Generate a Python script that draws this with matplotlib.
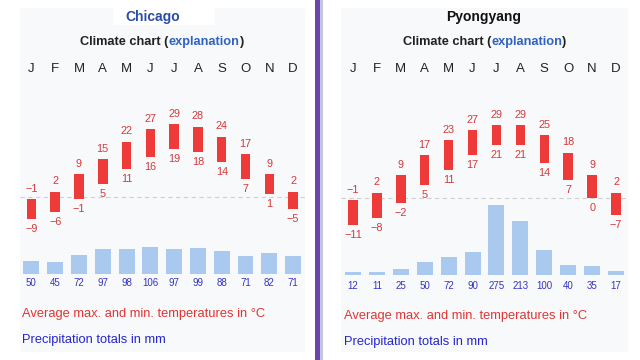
import matplotlib
matplotlib.use("Agg")
from matplotlib import pyplot as plt
from matplotlib.patches import Rectangle

plt.rcParams['font.family'] = ['Liberation Sans', 'DejaVu Sans']

months = ['J', 'F', 'M', 'A', 'M', 'J', 'J', 'A', 'S', 'O', 'N', 'D']

chicago_max = [-1, 2, 9, 15, 22, 27, 29, 28, 24, 17, 9, 2]
chicago_min = [-9, -6, -1, 5, 11, 16, 19, 18, 14, 7, 1, -5]
chicago_prec = [50, 45, 72, 97, 98, 106, 97, 99, 88, 71, 82, 71]

pyong_max = [-1, 2, 9, 17, 23, 27, 29, 29, 25, 18, 9, 2]
pyong_min = [-11, -8, -2, 5, 11, 17, 21, 21, 14, 7, 0, -7]
pyong_prec = [12, 11, 25, 50, 72, 90, 275, 213, 100, 40, 35, 17]

W, H = 640, 360
RED_BAR = '#ef3a3a'
RED_TXT = '#d5393c'
BLUE_BAR = '#a9c9ef'
BLUE_TXT = '#3434c4'
GREY_BG = '#f8f9fa'

fig = plt.figure(figsize=(6.4, 3.6), dpi=100)
fig.patch.set_facecolor('white')


def fx(px):
    return px / W


def fy(py):
    return 1 - py / H


def lab(v):
    return str(v).replace('-', '\u2212')


def panel(left, right, title, title_color, title_x, tmax, tmin, prec,
          zero_y, base_y, month_y, prec_lab_y, legend_y):
    # panel background
    fig.patches.append(Rectangle((fx(left), fy(352)), fx(right - left), (352 - 8) / H,
                                 transform=fig.transFigure, facecolor=GREY_BG,
                                 edgecolor='none', zorder=-2))
    cx = (left + right) / 2
    fig.text(fx(title_x), fy(17.5), title, color=title_color, fontsize=10,
             fontweight='bold', ha='center', va='center')

    # subtitle with a blue link word
    t1 = fig.text(0, 0, 'Climate chart (', fontsize=9.2, fontweight='bold',
                  color='#202122')
    t2 = fig.text(0, 0, 'explanation', fontsize=9.2, fontweight='bold',
                  color='#3062c0')
    t3 = fig.text(0, 0, ')', fontsize=9.2, fontweight='bold', color='#202122')
    r = fig.canvas.get_renderer()
    w1 = t1.get_window_extent(r).width
    w2 = t2.get_window_extent(r).width
    w3 = t3.get_window_extent(r).width
    start = cx - (w1 + w2 + w3) / 2
    y_base = fy(45.5)
    t1.set_position((fx(start), y_base))
    t2.set_position((fx(start + w1), y_base))
    t3.set_position((fx(start + w1 + w2), y_base))

    step = (right - left) / 12
    # temperature axes: 2.5 px per degree
    scale_t = 2.5
    t_lo, t_hi = -16, 40
    ax = fig.add_axes([fx(left), fy(zero_y - t_lo * scale_t),
                       fx(right - left), (t_hi - t_lo) * scale_t / H])
    ax.set_xlim(-0.5, 11.5)
    ax.set_ylim(t_lo, t_hi)
    ax.axis('off')
    x = list(range(12))
    heights = [a - b for a, b in zip(tmax, tmin)]
    ax.bar(x, heights, bottom=tmin, width=0.4, color=RED_BAR, zorder=3)
    ax.axhline(0, color='#d0d0d0', lw=0.8, ls=(0, (4, 3)), zorder=1)
    for i in x:
        ax.annotate(lab(tmax[i]), (i, tmax[i]), xytext=(0, 7.4),
                    textcoords='offset points', ha='center', va='center',
                    color=RED_TXT, fontsize=7.8)
        ax.annotate(lab(tmin[i]), (i, tmin[i]), xytext=(0, -7.4),
                    textcoords='offset points', ha='center', va='center',
                    color=RED_TXT, fontsize=7.8)

    # precipitation axes: 0.255 px per mm
    scale_p = 0.255
    p_hi = 300
    axp = fig.add_axes([fx(left), fy(base_y), fx(right - left), p_hi * scale_p / H])
    axp.set_xlim(-0.5, 11.5)
    axp.set_ylim(0, p_hi)
    axp.axis('off')
    axp.bar(x, prec, width=0.67, color=BLUE_BAR, zorder=2)
    axp.axhline(0, color='#dcdcdc', lw=0.8, zorder=1)
    for i in x:
        fig.text(fx(left + step * (i + 0.5)), fy(prec_lab_y), str(prec[i]),
                 ha='center', va='center', color=BLUE_TXT, fontsize=7)
        fig.text(fx(left + step * (i + 0.5)), fy(month_y), months[i],
                 ha='center', va='center', color='#222222', fontsize=9.5)

    fig.text(fx(left + 2.5), fy(legend_y), 'Average max. and min. temperatures in \u00b0C',
             ha='left', va='center', color='#e03535', fontsize=9.3)
    fig.text(fx(left + 2.5), fy(legend_y + 26), 'Precipitation totals in mm',
             ha='left', va='center', color='#2626cc', fontsize=9.3)


panel(19.5, 305, 'Chicago', '#2a4ea6', 153, chicago_max, chicago_min, chicago_prec,
      zero_y=196.5, base_y=273.7, month_y=68.5, prec_lab_y=283.5, legend_y=314)
panel(341, 628, 'Pyongyang', '#111111', 484, pyong_max, pyong_min, pyong_prec,
      zero_y=197.5, base_y=275, month_y=69.5, prec_lab_y=286, legend_y=316)

# white box behind the Chicago title
fig.patches.append(Rectangle((fx(113), fy(25)), fx(102), 25 / H, transform=fig.transFigure,
                             facecolor='white', edgecolor='none', zorder=-1))
# purple separator
fig.patches.append(Rectangle((fx(315), 0), fx(5), 1, transform=fig.transFigure,
                             facecolor='#6a46a8', edgecolor='none', zorder=1))
fig.patches.append(Rectangle((fx(320), 0), fx(3), 1, transform=fig.transFigure,
                             facecolor='#c4c4e4', edgecolor='none', zorder=1))

fig.savefig('out.png', dpi=100, facecolor='white')
